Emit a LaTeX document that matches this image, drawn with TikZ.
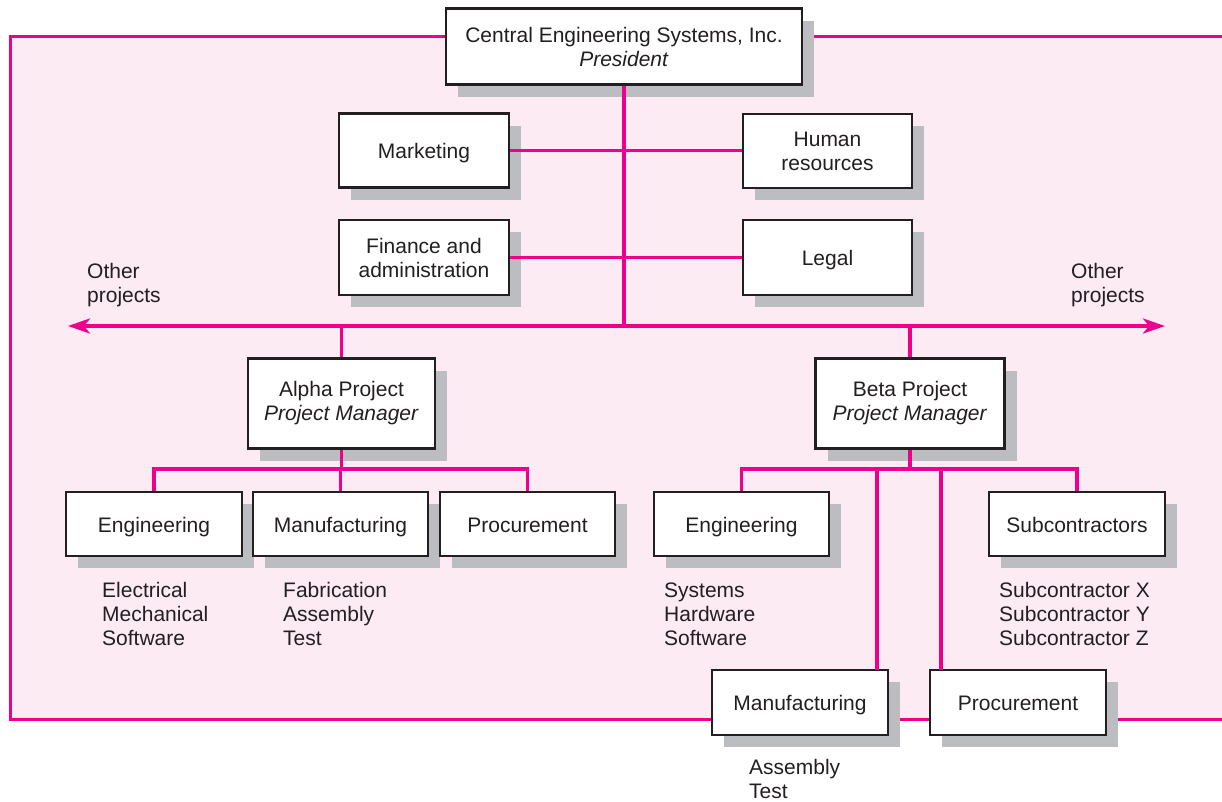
\documentclass[tikz,border=0pt]{standalone}
\usepackage{fontspec}
\setmainfont{Liberation Sans}
\usetikzlibrary{shadows,arrows.meta}
\definecolor{mag}{HTML}{EC008C}
\definecolor{pinkbg}{HTML}{FCEBF3}
\definecolor{shgray}{HTML}{BCBDC1}
\definecolor{ink}{HTML}{231F20}
\tikzset{
  orgbox/.style={draw=ink, line width=2.5pt, fill=white, inner sep=0pt, align=center,
    text=ink, font=\fontsize{21}{24}\selectfont,
    drop shadow={shadow xshift=12pt, shadow yshift=-12pt, fill=shgray, opacity=1, draw=none}},
  oneline/.style={text height=20.5pt, text depth=4.5pt},
  sublist/.style={anchor=west, align=left, inner sep=0pt, text=ink, font=\fontsize{21}{24}\selectfont},
  link/.style={draw=mag, line width=3.5pt},
}
\begin{document}
\begin{tikzpicture}[x=1pt,y=-1pt]
\useasboundingbox (0,0) rectangle (1222,801);
% background region
\fill[pinkbg] (10,36) rectangle (1222,719);
\draw[mag, line width=3pt] (1222,36) -- (10,36) -- (10,719) -- (1222,719);
% bus coordinates
\coordinate (busL) at (68,326);
\coordinate (busR) at (1165,326);
\coordinate (topjoin) at (624,326);
% nodes
\node[orgbox, minimum width=356pt, minimum height=76pt] (pres) at (624,46.5) {Central Engineering Systems, Inc.\\\textit{President}};
\node[orgbox, oneline, minimum width=170pt, minimum height=74pt] (mkt) at (424,150.5) {Marketing};
\node[orgbox, minimum width=169pt, minimum height=74pt] (hr) at (827.5,151) {Human\\resources};
\node[orgbox, minimum width=170pt, minimum height=75pt] (fin) at (424,257.5) {Finance and\\administration};
\node[orgbox, oneline, minimum width=169pt, minimum height=75pt] (legal) at (827.5,257.5) {Legal};
\node[orgbox, minimum width=187pt, minimum height=90pt] (alpha) at (341.5,403.5) {Alpha Project\\\textit{Project Manager}};
\node[orgbox, minimum width=189pt, minimum height=90pt] (beta) at (910,403.5) {Beta Project\\\textit{Project Manager}};
\node[orgbox, oneline, minimum width=176pt, minimum height=64pt] (aeng) at (154,524) {Engineering};
\node[orgbox, oneline, minimum width=175pt, minimum height=64pt] (aman) at (340.5,524) {Manufacturing};
\node[orgbox, oneline, minimum width=175pt, minimum height=64pt] (aproc) at (527.5,524) {Procurement};
\node[orgbox, oneline, minimum width=175pt, minimum height=64pt] (beng) at (741.5,524) {Engineering};
\node[orgbox, oneline, minimum width=176pt, minimum height=64pt] (bsub) at (1077,524) {Subcontractors};
\node[orgbox, oneline, minimum width=176pt, minimum height=65pt] (bman) at (800,702.5) {Manufacturing};
\node[orgbox, oneline, minimum width=176pt, minimum height=65pt] (bproc) at (1018,702.5) {Procurement};
% connectors
\draw[link] (pres.south) -- (topjoin);
\draw[link] (mkt.east) -- (mkt.east -| hr.west);
\draw[link] (fin.east) -- (legal.west);
\draw[link, -{Stealth[length=22pt,width=15pt,inset=6pt]}] (topjoin) -- (busL);
\draw[link, -{Stealth[length=22pt,width=15pt,inset=6pt]}] (topjoin) -- (busR);
\draw[link] (alpha.north) -- (alpha.north |- busL);
\draw[link] (beta.north) -- (beta.north |- busL);
% alpha children
\coordinate (abus) at (341.5,469);
\draw[link] (alpha.south) -- (abus);
\draw[link] (aeng.north) -- (aeng.north |- abus) -- (aproc.north |- abus) -- (aproc.north);
\draw[link] (aman.north) -- (aman.north |- abus);
% beta children
\coordinate (bbus) at (910,469);
\draw[link] (beta.south) -- (bbus);
\draw[link] (beng.north) -- (beng.north |- bbus) -- (bsub.north |- bbus) -- (bsub.north);
\coordinate (bmtop) at (877,670);
\coordinate (bptop) at (941,670);
\draw[link] (bmtop) -- (bmtop |- bbus);
\draw[link] (bptop) -- (bptop |- bbus);
% labels
\node[sublist] (otl) at (87,285.5) {Other\\projects};
\node[sublist] (otr) at (1071,285.5) {Other\\projects};
\node[sublist] (ael) at (102,614) {Electrical\\Mechanical\\Software};
\node[sublist] (aml) at (283,614) {Fabrication\\Assembly\\Test};
\node[sublist] (bel) at (664,614) {Systems\\Hardware\\Software};
\node[sublist] (bsl) at (999,614) {Subcontractor X\\Subcontractor Y\\Subcontractor Z};
\node[sublist] (bml) at (749,779) {Assembly\\Test};
\end{tikzpicture}
\end{document}
